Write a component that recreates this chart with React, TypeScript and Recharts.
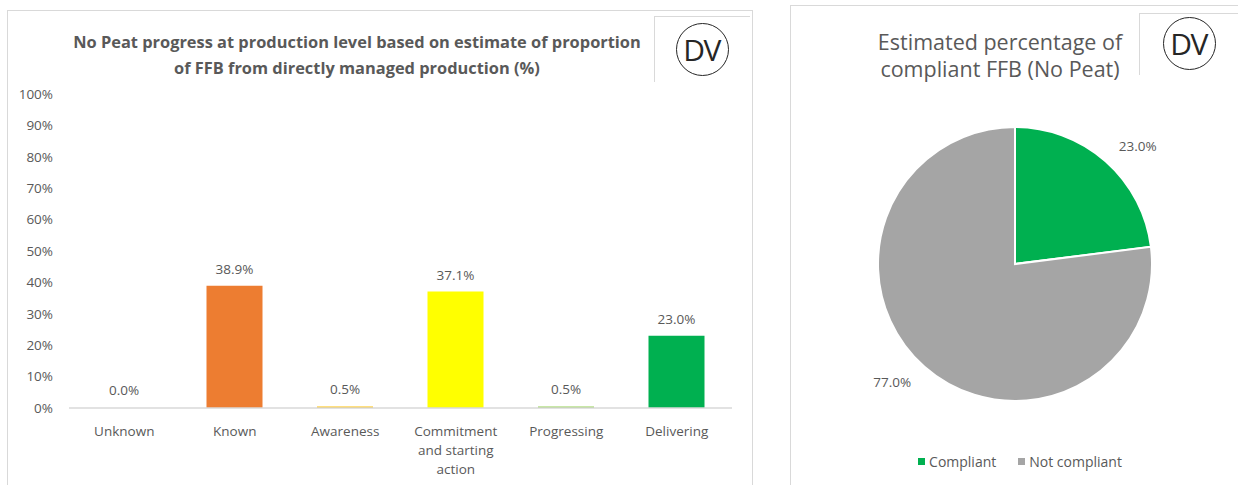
import React from 'react';
import { BarChart, Bar, XAxis, YAxis, Cell, LabelList, PieChart, Pie, Legend, Text } from 'recharts';

const categories = ['Unknown', 'Known', 'Awareness', 'Commitment and starting action', 'Progressing', 'Delivering'];
const barValues = [0.0, 38.9, 0.5, 37.1, 0.5, 23.0];
const barColors = ['transparent', '#ED7D31', '#FFC000', '#FFFF00', '#92D050', '#00B050'];
const yTicks = [0, 10, 20, 30, 40, 50, 60, 70, 80, 90, 100];

const pieNames = ['Compliant', 'Not compliant'];
const pieValues = [23.0, 77.0];
const pieColors = ['#00B050', '#A5A5A5'];

const barTitle = ['No Peat progress at production level based on estimate of proportion', 'of FFB from directly managed production (%)'];
const pieTitle = ['Estimated percentage of', 'compliant FFB (No Peat)'];

const barData = categories.map((c, i) => ({ name: c, value: barValues[i] }));
const pieData = pieNames.map((n, i) => ({ name: n, value: pieValues[i] }));

const FONT = '"Open Sans", sans-serif';
const TXT = '#595959';
const RADIAN = Math.PI / 180;
const FS = 13.5;

const XTick = (props: any) => {
  const { x, y, payload } = props;
  return (
    <Text x={x} y={y + 10} width={100} textAnchor="middle" verticalAnchor="start" lineHeight={19}
      fill={TXT} fontSize={FS} fontFamily={FONT}>
      {payload.value}
    </Text>
  );
};

const pieLabel = (p: any) => {
  const r = p.outerRadius + 20;
  const x = p.cx + r * Math.cos(-p.midAngle * RADIAN);
  const y = p.cy + r * Math.sin(-p.midAngle * RADIAN);
  return (
    <text x={x} y={y} textAnchor={x > p.cx ? 'start' : 'end'} dominantBaseline="central"
      fill={TXT} fontSize={FS} fontFamily={FONT}>
      {Number(p.value).toFixed(1) + '%'}
    </text>
  );
};

const LegendContent = (props: any) => {
  const { payload } = props;
  return (
    <div style={{ display: 'flex', justifyContent: 'center', fontFamily: FONT, fontSize: 14, color: TXT }}>
      {payload.map((e: any, i: number) => (
        <div key={i} style={{ display: 'flex', alignItems: 'center', marginRight: i === 0 ? 22 : 0 }}>
          <span style={{ width: 7, height: 7, background: e.color, display: 'inline-block', marginRight: 4 }} />
          <span>{e.value}</span>
        </div>
      ))}
    </div>
  );
};

const DV = ({ left, top }: { left: number; top: number }) => (
  <div style={{
    position: 'absolute', left: left - 27, top: top - 27, width: 51, height: 51, borderRadius: '50%',
    border: '1.5px solid #262626', display: 'flex', alignItems: 'center', justifyContent: 'center',
    fontFamily: FONT, fontSize: 30, letterSpacing: -1.5, color: '#262626', lineHeight: 1,
  }}>
    <span style={{ marginLeft: -2 }}>DV</span>
  </div>
);

export default function App() {
  return (
    <div style={{ position: 'absolute', left: 0, top: 0, width: 1238, height: 485, background: '#fff', overflow: 'hidden' }}>
      {/* left panel */}
      <div style={{ position: 'absolute', left: 7, top: 10, width: 746, height: 490, border: '1px solid #d9d9d9', boxSizing: 'border-box' }} />
      <div style={{ position: 'absolute', left: 654, top: 16, width: 96, height: 66, borderLeft: '1.5px solid #d9d9d9', borderTop: '1.5px solid #d9d9d9', boxSizing: 'border-box' }} />
      <DV left={703} top={50} />
      <div style={{ position: 'absolute', left: 7, top: 29, width: 700, textAlign: 'center', fontFamily: FONT, fontWeight: 700, fontSize: 16.4, lineHeight: '26px', color: TXT }}>
        <div>{barTitle[0]}</div>
        <div>{barTitle[1]}</div>
      </div>
      <div style={{ position: 'absolute', left: 0, top: 0 }}>
        <BarChart width={760} height={485} data={barData} margin={{ top: 94, right: 28, left: 0, bottom: 17 }} barSize={56}>
          <YAxis width={69} domain={[0, 100]} ticks={yTicks} interval={0} axisLine={false} tickLine={false}
            tickSize={0} tickMargin={16} tickFormatter={(v: number) => v + '%'}
            tick={{ fill: TXT, fontSize: FS, fontFamily: FONT }} />
          <XAxis dataKey="name" height={60} interval={0} axisLine={{ stroke: '#d9d9d9', strokeWidth: 1.5 }} tickLine={false}
            tick={<XTick />} />
          <Bar dataKey="value" minPointSize={1} isAnimationActive={false}>
            {barData.map((d, i) => <Cell key={i} fill={barColors[i]} />)}
            <LabelList dataKey="value" position="top" offset={12} formatter={(v: any) => Number(v).toFixed(1) + '%'}
              fill={TXT} fontSize={FS} fontFamily={FONT} />
          </Bar>
        </BarChart>
      </div>

      {/* right panel */}
      <div style={{ position: 'absolute', left: 790, top: 5, width: 460, height: 490, border: '1px solid #d9d9d9', boxSizing: 'border-box' }} />
      <div style={{ position: 'absolute', left: 1139, top: 13, width: 110, height: 62, borderLeft: '1.5px solid #d9d9d9', borderTop: '1.5px solid #d9d9d9', boxSizing: 'border-box' }} />
      <DV left={1190} top={44} />
      <div style={{ position: 'absolute', left: 850, top: 28, width: 300, textAlign: 'center', fontFamily: FONT, fontSize: 21.5, lineHeight: '27px', color: TXT }}>
        <div>{pieTitle[0]}</div>
        <div>{pieTitle[1]}</div>
      </div>
      <div style={{ position: 'absolute', left: 790, top: 0 }}>
        <PieChart width={448} height={485}>
          <Pie data={pieData} dataKey="value" nameKey="name" cx={220} cy={259} outerRadius={137}
            startAngle={90} endAngle={-270} stroke="#fff" strokeWidth={2} labelLine={false}
            label={pieLabel} isAnimationActive={false}>
            {pieData.map((d, i) => <Cell key={i} fill={pieColors[i]} />)}
          </Pie>
          <Legend content={<LegendContent />} wrapperStyle={{ position: 'absolute', top: 452, left: 6, width: 448 }} />
        </PieChart>
      </div>
    </div>
  );
}
